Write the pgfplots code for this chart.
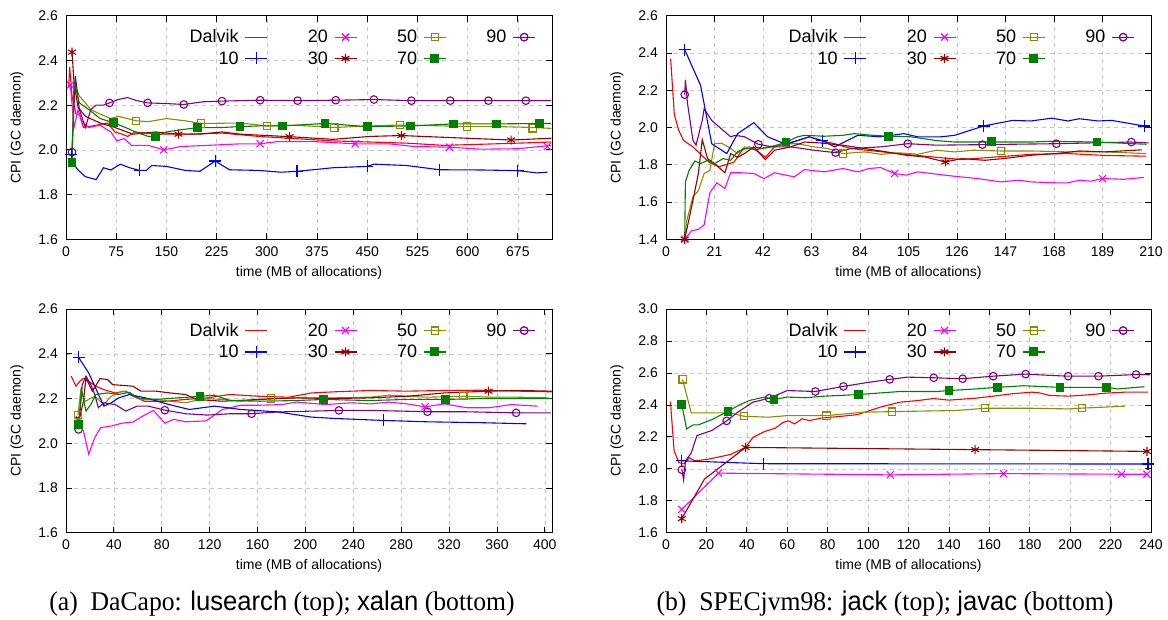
\documentclass[border=0pt]{standalone}
\usepackage{fontspec}
\setmainfont{Liberation Serif}
\setsansfont{Liberation Sans}
\usepackage{graphicx}
\usepackage{pgfplots}
\pgfplotsset{compat=1.18}
\definecolor{cD}{RGB}{255,0,0}
\definecolor{cA}{RGB}{0,0,255}
\definecolor{cB}{RGB}{255,0,255}
\definecolor{cC}{RGB}{150,0,0}
\definecolor{cE}{RGB}{140,140,0}
\definecolor{cF}{RGB}{0,128,0}
\definecolor{cG}{RGB}{128,0,128}
\pgfplotsset{
  sD/.style={color=cD, line width=1.1pt, mark=none},
  sA/.style={color=cA, line width=1.1pt, mark=+, mark size=6pt},
  sB/.style={color=cB, line width=1.1pt, mark=x, mark size=5pt},
  sC/.style={color=cC, line width=1.1pt, mark=asterisk, mark size=4.5pt},
  sE/.style={color=cE, line width=1.1pt, mark=square, mark size=3.6pt},
  sF/.style={color=cF, line width=1.1pt, mark=square*, mark size=3.8pt},
  sG/.style={color=cG, line width=1.1pt, mark=o, mark size=3.8pt},
  myaxis/.style={
    scale only axis, width=486pt, height=223.6pt, anchor=south west,
    axis line style={line width=1pt, black},
    tick style={line width=0.8pt, black},
    major tick length=6pt,
    grid=major,
    major grid style={line width=0.6pt, gray!45, dash pattern=on 4pt off 4pt},
    font=\sffamily\fontsize{14}{16}\selectfont,
    tick label style={font=\sffamily\fontsize{14}{16}\selectfont},
    /pgf/number format/assume math mode=true,
    yticklabel style={/pgf/number format/fixed, /pgf/number format/fixed zerofill, /pgf/number format/precision=1},
    yticklabel style={inner sep=0pt, xshift=-8pt},
    xticklabel style={inner sep=0pt, yshift=-7pt},
    xlabel={time (MB of allocations)},
    ylabel={CPI (GC daemon)},
    xlabel style={at={(axis description cs:0.5,-0.149)}, anchor=center},
    ylabel style={at={(axis description cs:-0.101,0.5)}, anchor=center, rotate=0},
    legend columns=4,
    legend plot pos=right,
    legend cell align=right,
    legend image code/.code={\draw[##1, line width=1.3pt, sharp plot, mark repeat=2, mark phase=2] plot coordinates {(0pt,0pt) (11pt,0pt) (22pt,0pt)};},
    legend style={draw=none, fill=none, at={(1,1)}, anchor=north east, xshift=-16pt, yshift=-14pt,
      font=\sffamily\fontsize{18}{18}\selectfont, inner sep=0pt, row sep=7pt,
      nodes={inner sep=0pt},
      /tikz/every even column/.append style={column sep=40pt},
      /tikz/every odd column/.append style={column sep=6pt}},
  }
}
\begin{document}
\begin{tikzpicture}
\path[use as bounding box] (0,0) rectangle (1168pt,620pt);
% ---------------- panel 1: lusearch ----------------
\begin{axis}[myaxis, at={(66pt,380.7pt)}, xmin=0, xmax=726, ymin=1.6, ymax=2.6,
  xtick={0,75,...,675}, ytick={1.6,1.8,...,2.61}]
\addplot[sD] coordinates {(4,2.28)(5.5,2.37)(9,2.24)(15,2.16)(20,2.16)(26,2.10)(45,2.11)(62,2.12)(73,2.08)(84,2.07)(92,2.06)(103,2.08)(134,2.07)(178,2.07)(233,2.075)(288,2.06)(344,2.05)(399,2.04)(454,2.035)(509,2.03)(565,2.02)(620,2.025)(675,2.03)(725,2.035)};
\addplot[sB, mark=none, forget plot] coordinates {(6.6,2.29)(12,2.10)(18,2.18)(23,2.13)(34,2.10)(51,2.11)(67,2.08)(76,2.04)(87,2.05)(98,2.02)(123,2.02)(146,2.0)(172,2.015)(211,2.02)(261,2.027)(290,2.027)(316,2.037)(371,2.037)(432,2.027)(482,2.027)(520,2.015)(573,2.012)(620,2.003)(675,2.005)(725,2.02)};
\addplot[sB, only marks] coordinates {(6.6,2.29)(146,2.0)(290,2.027)(432,2.027)(573,2.012)(719,2.015)};
\addplot[sE, mark=none, forget plot] coordinates {(9,2.0)(12,2.30)(20,2.24)(29,2.21)(37,2.18)(51,2.16)(67,2.14)(78,2.15)(105,2.13)(123,2.126)(150,2.14)(178,2.13)(202,2.118)(261,2.12)(300,2.107)(344,2.11)(401,2.10)(454,2.107)(499,2.111)(565,2.107)(599,2.104)(647,2.104)(697,2.10)(725,2.096)};
\addplot[sE, only marks] coordinates {(105,2.13)(202,2.118)(300,2.107)(401,2.10)(499,2.111)(599,2.104)(697,2.096)};
\addplot[sG, mark=none, forget plot] coordinates {(9,1.99)(14,2.33)(20,2.18)(29,2.10)(37,2.18)(45,2.20)(56,2.20)(65,2.21)(78,2.225)(92,2.234)(106,2.22)(122,2.21)(150,2.207)(176,2.203)(205,2.215)(233,2.218)(288,2.222)(346,2.22)(403,2.222)(460,2.225)(516,2.22)(574,2.22)(631,2.22)(687,2.22)(725,2.22)};
\addplot[sG, only marks] coordinates {(9,1.99)(65,2.21)(122,2.21)(176,2.203)(233,2.218)(290,2.222)(346,2.22)(403,2.222)(460,2.225)(516,2.22)(574,2.22)(631,2.22)(687,2.22)};
\addplot[sA, mark=none, forget plot] coordinates {(8,1.98)(13,1.93)(18,1.91)(29,1.88)(45,1.867)(56,1.92)(67,1.91)(81,1.936)(95,1.92)(110,1.908)(120,1.908)(128,1.93)(150,1.926)(178,1.908)(200,1.904)(223,1.95)(244,1.911)(288,1.908)(321,1.9)(345,1.904)(399,1.92)(450,1.926)(460,1.936)(509,1.93)(558,1.911)(620,1.91)(675,1.907)(703,1.897)(719,1.9)};
\addplot[sA, only marks] coordinates {(8,1.98)(110,1.908)(223,1.95)(345,1.904)(450,1.926)(558,1.911)(675,1.907)};
\addplot[sC, mark=none, forget plot] coordinates {(9,2.437)(12,2.30)(18,2.19)(29,2.15)(51,2.12)(73,2.10)(100,2.07)(134,2.08)(168,2.07)(200,2.07)(233,2.08)(261,2.07)(334,2.059)(399,2.047)(454,2.06)(501,2.064)(565,2.056)(665,2.044)(725,2.052)};
\addplot[sC, only marks] coordinates {(9,2.437)(168,2.07)(334,2.059)(501,2.064)(665,2.044)};
\addplot[sF, mark=none, forget plot] coordinates {(9,1.944)(12,2.30)(15,2.27)(20,2.21)(34,2.18)(51,2.14)(71,2.121)(89,2.10)(106,2.077)(123,2.06)(134,2.059)(150,2.08)(172,2.09)(196,2.099)(233,2.10)(260,2.104)(288,2.107)(323,2.107)(387,2.118)(450,2.104)(515,2.107)(579,2.116)(643,2.116)(707,2.118)(725,2.118)};
\addplot[sF, only marks] coordinates {(9,1.944)(71,2.121)(134,2.059)(196,2.099)(260,2.104)(323,2.107)(387,2.118)(450,2.104)(515,2.107)(579,2.116)(643,2.116)(707,2.118)};
\legend{Dalvik,20,50,90,10,30,70}
\end{axis}
% ---------------- panel 2: jack ----------------
\begin{axis}[myaxis, at={(666pt,380.7pt)}, width=485pt, xmin=0, xmax=210, ymin=1.4, ymax=2.6,
  xtick={0,21,...,210}, ytick={1.4,1.6,...,2.61}]
\addplot[sD] coordinates {(2,2.37)(3.6,2.07)(5.5,1.985)(7.6,1.93)(11.7,1.896)(15,1.856)(19,1.81)(23,1.79)(26,1.80)(29.5,1.815)(33,1.878)(36,1.896)(40,1.87)(43,1.84)(47,1.896)(52,1.913)(57,1.93)(62,1.95)(67,1.93)(73,1.913)(80,1.887)(93,1.87)(104,1.856)(117,1.84)(128,1.828)(141,1.84)(158,1.856)(174,1.86)(190,1.85)(208,1.846)};
\addplot[sB, mark=none, forget plot] coordinates {(8.1,1.40)(11,1.446)(14,1.453)(16.5,1.477)(19,1.65)(22,1.703)(25.5,1.673)(28,1.757)(33,1.757)(38,1.753)(42.5,1.726)(47,1.757)(55.5,1.735)(60,1.774)(68.5,1.762)(76.6,1.78)(83,1.762)(88,1.78)(93,1.785)(99,1.753)(104,1.744)(109,1.762)(117,1.75)(125,1.738)(135,1.726)(145,1.708)(153,1.717)(158,1.708)(169,1.703)(174,1.703)(179,1.717)(184,1.712)(189,1.726)(198,1.722)(207,1.732)};
\addplot[sB, only marks] coordinates {(8.1,1.40)(99,1.753)(189,1.726)};
\addplot[sE, mark=none, forget plot] coordinates {(8.1,1.40)(9,1.50)(11.7,1.63)(14,1.66)(16.5,1.753)(19,1.77)(21,1.913)(24,1.916)(27,1.896)(31,1.86)(34,1.896)(39,1.882)(44,1.896)(51,1.913)(57,1.913)(64,1.896)(70,1.887)(76.6,1.86)(86,1.869)(93,1.856)(101,1.864)(109,1.856)(117,1.878)(125,1.869)(133,1.878)(145,1.874)(158,1.874)(174,1.869)(190,1.869)(208,1.86)};
\addplot[sE, only marks] coordinates {(76.6,1.86)(145,1.874)};
\addplot[sG, mark=none, forget plot] coordinates {(8.1,2.176)(8.4,2.256)(9.3,2.13)(11.7,1.93)(13,1.905)(15.7,2.038)(16.5,2.10)(19.8,2.038)(24.7,1.985)(28,1.95)(30,1.958)(34,1.95)(40,1.91)(46,1.896)(54,1.896)(64,1.878)(73.4,1.865)(80,1.887)(93,1.896)(104.7,1.913)(117,1.905)(137,1.908)(169,1.913)(201.5,1.922)(209,1.917)};
\addplot[sG, only marks] coordinates {(8.1,2.176)(40,1.91)(73.4,1.865)(104.7,1.913)(137,1.908)(169,1.913)(201.5,1.922)};
\addplot[sA, mark=none, forget plot] coordinates {(8.1,2.418)(15,2.225)(19.8,1.913)(26.3,1.86)(31,1.967)(38,2.026)(44,1.95)(52,1.91)(62,1.95)(67.7,1.93)(73,1.896)(83,1.958)(93,1.95)(103,1.967)(109,1.95)(119,1.95)(125,1.958)(137.5,2.008)(150,2.038)(158,2.035)(167,2.05)(174,2.035)(179,2.047)(187,2.035)(193,2.038)(207,2.008)};
\addplot[sA, only marks] coordinates {(8.1,2.418)(67.7,1.93)(137.5,2.008)(207,2.008)};
\addplot[sC, mark=none, forget plot] coordinates {(8.1,1.40)(11.7,1.61)(14,1.753)(15.7,1.935)(18,1.833)(21,1.806)(25.5,1.757)(28,1.86)(31,1.84)(34,1.86)(38,1.896)(43,1.828)(47,1.878)(54,1.896)(60,1.922)(67,1.917)(77,1.904)(86,1.887)(93,1.874)(104,1.851)(112,1.842)(121,1.815)(128,1.833)(138,1.824)(146,1.833)(158,1.851)(169,1.86)(179,1.874)(190,1.869)(206,1.88)};
\addplot[sC, only marks] coordinates {(8.1,1.40)(121,1.815)};
\addplot[sF, mark=none, forget plot] coordinates {(8.1,1.40)(8.4,1.708)(10,1.77)(12.5,1.82)(15,1.806)(18,1.824)(21,1.806)(24.7,1.833)(28,1.824)(31,1.87)(34,1.887)(39,1.882)(46,1.896)(52,1.922)(57,1.95)(60,1.958)(68.5,1.953)(76.6,1.958)(81.5,1.967)(89.6,1.958)(96.4,1.953)(106,1.95)(117,1.93)(125,1.922)(141,1.922)(158,1.922)(166,1.926)(186.6,1.922)(208,1.91)};
\addplot[sF, only marks] coordinates {(52,1.922)(96.4,1.953)(141,1.926)(186.6,1.922)};
\legend{Dalvik,20,50,90,10,30,70}
\end{axis}
% ---------------- panel 3: xalan ----------------
\begin{axis}[myaxis, at={(66pt,87.3pt)}, xmin=0, xmax=406, ymin=1.6, ymax=2.6,
  xtick={0,40,...,400}, ytick={1.6,1.8,...,2.61}]
\addplot[sD] coordinates {(4.3,2.30)(8.4,2.255)(11.5,2.277)(14.6,2.29)(19,2.277)(25,2.255)(31.6,2.24)(41,2.225)(50,2.233)(56,2.21)(65.6,2.188)(84,2.188)(100,2.196)(118,2.203)(137,2.218)(162,2.21)(186,2.206)(205,2.225)(224,2.23)(254,2.236)(285,2.233)(316,2.236)(347,2.237)(378,2.233)(406,2.23)};
\addplot[sB, mark=none, forget plot] coordinates {(8.4,2.121)(14.6,2.055)(19,1.951)(24,2.025)(29,2.07)(37.8,2.077)(47,2.09)(56,2.095)(64,2.121)(73,2.147)(82.6,2.09)(90,2.107)(100,2.096)(117,2.10)(130.6,2.151)(146,2.17)(162,2.17)(180,2.173)(192.6,2.184)(217,2.173)(239,2.181)(254,2.176)(270,2.184)(285,2.176)(300,2.163)(316,2.176)(335,2.159)(353.6,2.159)(372,2.173)(394,2.166)};
\addplot[sB, only marks] coordinates {(10.5,2.10)(300,2.163)};
\addplot[sE, mark=none, forget plot] coordinates {(10,2.126)(12.4,2.24)(16,2.188)(24,2.21)(31.6,2.173)(37.8,2.21)(47,2.233)(53,2.225)(62.5,2.196)(75,2.196)(87,2.188)(100,2.181)(115,2.2)(130.6,2.196)(146,2.188)(171.5,2.2)(192.6,2.203)(224,2.203)(254,2.206)(270,2.215)(301,2.206)(332,2.21)(357,2.206)(378,2.206)(403,2.203)};
\addplot[sE, only marks] coordinates {(10,2.126)(171.5,2.2)(332,2.21)};
\addplot[sG, mark=none, forget plot] coordinates {(10.5,2.062)(13.6,2.262)(16.7,2.30)(20.7,2.262)(24,2.218)(27,2.159)(31.6,2.181)(41,2.173)(50,2.144)(59.4,2.166)(68.7,2.166)(82.6,2.148)(100,2.132)(118,2.126)(137,2.132)(155,2.132)(177,2.14)(208,2.144)(228,2.147)(254,2.147)(302,2.141)(332,2.141)(376,2.136)(405,2.136)};
\addplot[sG, only marks] coordinates {(10.5,2.062)(82.6,2.148)(155,2.132)(228,2.147)(302,2.141)(376,2.136)};
\addplot[sA, mark=none, forget plot] coordinates {(10.5,2.384)(19,2.314)(31.6,2.166)(37.8,2.181)(44,2.203)(53,2.218)(68.7,2.2)(84,2.176)(103,2.151)(124,2.166)(146,2.151)(177,2.14)(205,2.117)(224,2.111)(265,2.102)(301,2.096)(347,2.092)(384.5,2.087)};
\addplot[sA, only marks] coordinates {(10.5,2.384)(265,2.102)};
\addplot[sC, mark=none, forget plot] coordinates {(6.8,2.114)(11.5,2.117)(14.6,2.188)(16.7,2.292)(22,2.233)(28.5,2.289)(34.7,2.285)(39,2.262)(47,2.259)(56,2.255)(62.5,2.233)(75,2.233)(87,2.225)(100,2.218)(109,2.196)(130.6,2.188)(162,2.196)(192.6,2.203)(224,2.2)(254,2.203)(285,2.21)(316,2.225)(353,2.233)(378,2.236)(406,2.233)};
\addplot[sC, only marks] coordinates {(353,2.233)};
\addplot[sF, mark=none, forget plot] coordinates {(10.5,2.084)(13,2.24)(16.7,2.144)(20.7,2.173)(25,2.218)(34.7,2.225)(44,2.218)(53,2.228)(59.4,2.203)(75,2.196)(93.5,2.203)(112,2.21)(124,2.215)(137,2.191)(162,2.188)(192.6,2.191)(215,2.196)(254,2.191)(285,2.196)(317,2.196)(347,2.2)(406,2.2)};
\addplot[sF, only marks] coordinates {(10.5,2.084)(112,2.21)(215,2.196)(317,2.196)};
\legend{Dalvik,20,50,90,10,30,70}
\end{axis}
% ---------------- panel 4: javac ----------------
\begin{axis}[myaxis, at={(666pt,87.3pt)}, width=485pt, xmin=0, xmax=240, ymin=1.6, ymax=3.0,
  xtick={0,20,...,240}, ytick={1.6,1.8,...,3.01}]
\addplot[sD] coordinates {(2.2,2.42)(4,2.113)(6.3,2.04)(8.7,2.03)(11.5,2.07)(14.3,2.05)(20.8,2.06)(32,2.09)(39.4,2.134)(43,2.197)(48.7,2.233)(54,2.254)(58,2.291)(60.8,2.30)(63.6,2.281)(67.3,2.313)(71,2.302)(76.7,2.317)(87.8,2.33)(95,2.34)(106,2.386)(115.7,2.417)(125,2.428)(132.5,2.44)(140,2.43)(153,2.442)(162,2.455)(171.5,2.47)(181,2.48)(184.6,2.476)(190,2.459)(199.4,2.455)(208.7,2.463)(218,2.474)(227,2.48)(238.5,2.48)};
\addplot[sB, mark=none, forget plot] coordinates {(7.8,1.746)(26,1.973)(111,1.962)(167,1.97)(225.5,1.966)(238,1.966)};
\addplot[sB, only marks] coordinates {(7.8,1.746)(26,1.973)(111,1.962)(167,1.97)(225.5,1.966)(238,1.966)};
\addplot[sE, mark=none, forget plot] coordinates {(8.2,2.56)(12.5,2.35)(22,2.35)(32,2.35)(38.5,2.329)(50.6,2.323)(60,2.333)(79.4,2.333)(97,2.354)(112,2.358)(143.6,2.365)(158,2.379)(181,2.379)(199.4,2.375)(206,2.38)(227,2.392)};
\addplot[sE, only marks] coordinates {(8.2,2.56)(38.5,2.33)(79.4,2.333)(112,2.358)(158,2.379)(206,2.38)};
\addplot[sG, mark=none, forget plot] coordinates {(7.8,2.0)(8.7,1.93)(9.7,2.05)(12.5,2.10)(15.3,2.208)(22.7,2.24)(30,2.30)(35.7,2.356)(43,2.417)(51,2.442)(60,2.49)(73.9,2.484)(87.8,2.516)(99,2.539)(110.7,2.56)(119.4,2.574)(132.5,2.57)(146.8,2.564)(161.9,2.58)(178,2.593)(190,2.585)(199,2.58)(214,2.58)(232.6,2.59)(239.4,2.589)};
\addplot[sG, only marks] coordinates {(7.8,1.994)(30,2.30)(51,2.442)(73.9,2.484)(87.8,2.516)(110.7,2.56)(132.5,2.57)(146.8,2.564)(161.9,2.58)(178,2.593)(199,2.58)(214,2.58)(232.6,2.59)};
\addplot[sA, mark=none, forget plot] coordinates {(7.8,2.05)(48.4,2.032)(238.5,2.03)};
\addplot[sA, only marks] coordinates {(7.8,2.05)(48.4,2.032)(238.5,2.03)};
\addplot[sC, mark=none, forget plot] coordinates {(7.8,1.688)(19,1.935)(39.4,2.134)(153,2.12)(238,2.109)};
\addplot[sC, only marks] coordinates {(7.8,1.688)(39.4,2.134)(153,2.12)(238,2.109)};
\addplot[sF, mark=none, forget plot] coordinates {(7.8,2.403)(10.2,2.25)(13.4,2.275)(16,2.275)(22.7,2.308)(30.7,2.36)(35.7,2.396)(41.3,2.428)(48.7,2.449)(53.4,2.434)(60,2.449)(69,2.445)(78.5,2.455)(95.3,2.465)(115.7,2.484)(134,2.484)(140,2.49)(153,2.5)(164,2.51)(177,2.52)(195,2.51)(208.7,2.51)(218,2.51)(223.6,2.5)(236.7,2.514)};
\addplot[sF, only marks] coordinates {(7.8,2.403)(30.7,2.36)(53.4,2.434)(95.3,2.465)(140,2.49)(164,2.51)(195,2.51)(218,2.51)};
\legend{Dalvik,20,50,90,10,30,70}
\end{axis}
% captions
\node[anchor=base, font=\fontsize{27}{30}\selectfont] at (282pt,9pt) {\scalebox{0.95}[1]{(a)\hspace{0.5em}DaCapo: \textsf{lusearch} (top); \textsf{xalan} (bottom)}};
\node[anchor=base, font=\fontsize{27}{30}\selectfont] at (885pt,9pt) {\scalebox{0.95}[1]{(b)\hspace{0.5em}SPECjvm98: \textsf{jack} (top); \textsf{javac} (bottom)}};
\end{tikzpicture}
\end{document}
